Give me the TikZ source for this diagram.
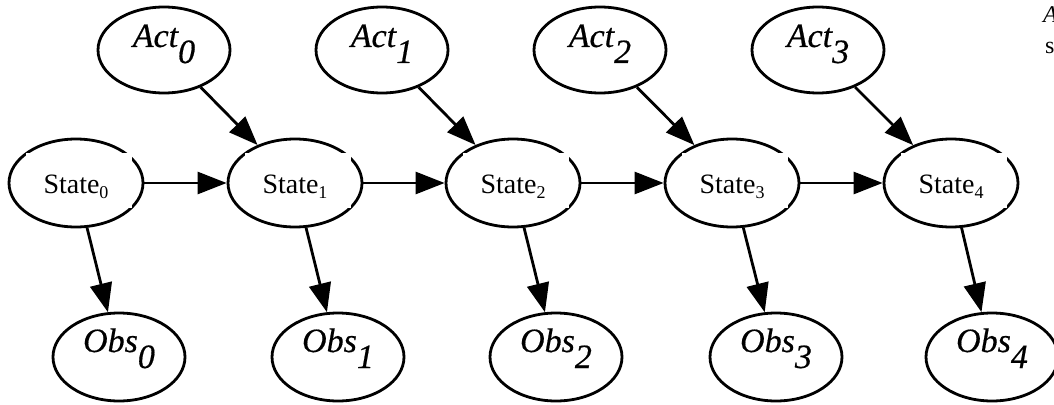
\documentclass[tikz,border=0pt]{standalone}
\usepackage{fontspec}
\setmainfont{Liberation Serif}
\newfontfamily\heavyserif{Liberation Serif}[FakeBold=0.5]
\usetikzlibrary{arrows.meta,calc,shapes.geometric}
\newcommand\italsub[1]{\raisebox{-16pt}{#1}}
\newcommand\stsub[1]{\raisebox{-5pt}{\fontsize{18}{19}\selectfont #1}}
\begin{document}
\begin{tikzpicture}[x=1pt,y=-1pt,
  ell/.style={draw,ellipse,line width=2.8pt,inner sep=0pt,minimum width=132pt,minimum height=86pt},
  stell/.style={ell,minimum width=134pt,minimum height=88pt},
  arr/.style={-{Triangle[length=29pt,width=22pt]},line width=2.8pt},
  itlab/.style={anchor=base,inner sep=0pt,font=\fontsize{34}{36}\selectfont\heavyserif\itshape},
  stlab/.style={anchor=base,inner sep=0pt,font=\fontsize{28}{30}\selectfont},
  frag/.style={anchor=base west,inner sep=0pt,font=\fontsize{24}{26}\selectfont}]
\useasboundingbox (0,0) rectangle (1054,404);
\clip (0,0) rectangle (1054,404);
\fill[white] (0,0) rectangle (1054,404);
% action nodes
\foreach \i/\x in {0/164,1/382,2/600,3/818}{
  \node[ell] (a\i) at (\x,50) {};
}
% state nodes
\foreach \i/\x in {0/76,1/295,2/513,3/732,4/951}{
  \node[stell] (s\i) at (\x,183) {};
  \fill[white] (\x-50,153) rectangle (\x+56,208);
}
% observation nodes
\foreach \i/\x in {0/119,1/338,2/556,3/776,4/992}{
  \node[ell,minimum height=88pt] (o\i) at (\x,357) {};
}
% edges
\foreach \i/\j in {0/1,1/2,2/3,3/4}{
  \draw[arr] (a\i) -- (s\j);
  \draw[arr] (s\i) -- (s\j);
}
\foreach \i in {0,...,4}{
  \draw[arr] (s\i) -- (o\i);
}
% labels
\foreach \i/\x in {0/164,1/382,2/600,3/818}{
  \node[itlab] (la\i) at (\x,47) {Act\italsub{\i}};
}
\foreach \i/\x in {0/76,1/295,2/513,3/732,4/951}{
  \node[stlab] (ls\i) at (\x,193) {State\stsub{\i}};
}
\foreach \i/\x in {0/119,1/338,2/556,3/776,4/992}{
  \node[itlab] (lo\i) at (\x,352) {Obs\italsub{\i}};
}
% cut-off text at the right edge
\node[frag,font=\fontsize{24}{26}\selectfont\itshape] (fa) at (1043,23) {A};
\node[frag] (fs) at (1045,53) {s};
\end{tikzpicture}
\end{document}
